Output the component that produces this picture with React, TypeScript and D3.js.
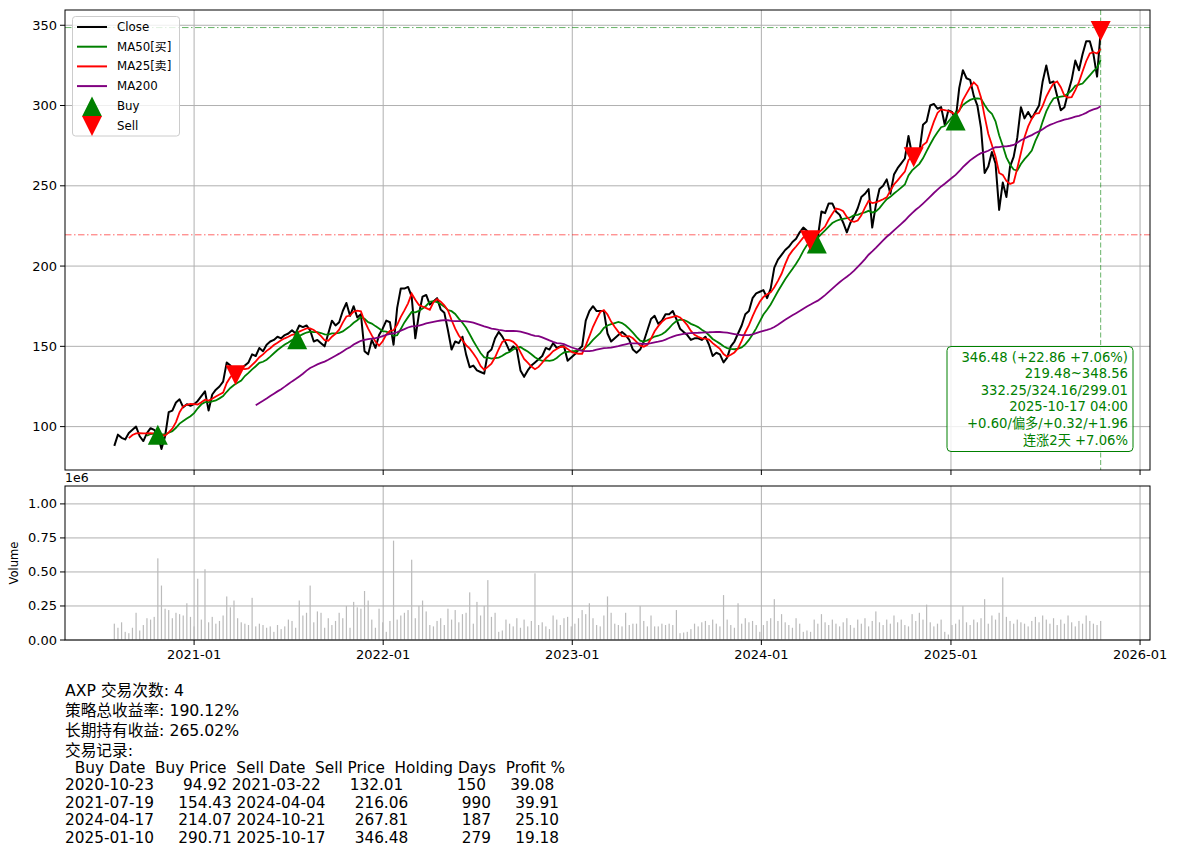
import React from "react";
import * as d3 from "d3";

// ---------- data ----------
const seriesStart = "2020-07-31"; // weekly closes, one per Friday
const closes = [
  88, 95, 93, 92, 96, 98, 100, 94, 91, 96,
  99, 98, 94.92, 86, 94, 109, 110, 115, 117, 112,
  114, 113, 114, 116, 119, 122, 110, 120, 123, 125,
  128, 140, 138, 134, 133, 136, 138, 140, 145, 144,
  149, 147, 151, 153, 154, 156, 155, 157, 158, 160,
  158, 163, 162, 163, 160, 153, 154, 152, 150, 158,
  166, 163, 165, 172, 177, 169, 175, 168, 170, 147,
  145, 154, 149, 157, 161, 166, 165, 151, 174, 186,
  186, 187, 181, 155, 170, 181, 182, 176, 178, 180,
  173, 171, 160, 148, 153, 152, 156, 145, 137, 138,
  135, 134, 133, 146, 148, 155, 159, 156, 152, 147,
  150, 148, 135, 131, 135, 138, 140, 142, 144, 149,
  148, 152, 149, 150, 150, 141, 143, 145, 148, 150,
  166, 172, 175, 172, 172, 172, 158, 153, 155, 157,
  159, 157, 154, 148, 146, 148, 153, 160, 167, 169,
  164, 166, 170, 170, 172, 167, 161, 159, 157, 154,
  155, 155, 154, 156, 151, 144, 146, 145, 140, 143,
  150, 153, 158, 163, 170, 172, 180, 183, 184, 185,
  180, 186, 199, 204, 207, 210, 212, 215, 217, 221,
  224, 222, 217, 221, 218, 234, 233, 239, 239, 234,
  232, 227, 221, 227, 231, 236, 243, 245, 248, 224,
  238, 248, 250, 254, 245, 257, 261, 264, 267, 281,
  269, 268, 271, 288, 290, 300, 301, 298, 299, 288,
  297, 296, 291, 311, 322, 317, 316, 306, 300, 286,
  258, 262, 271, 264, 235, 252, 243, 262, 268, 280,
  299, 292, 296, 292, 296, 300, 315, 325, 314, 315,
  306, 297, 299, 308, 316, 328, 322, 332, 340, 340,
  332, 318, 346.48,
];
// volume in thousands of shares
const volumesK = [
  120, 90, 130, 60, 50, 90, 200, 70, 110, 160,
  150, 170, 600, 400, 230, 220, 160, 200, 190, 180,
  270, 170, 100, 450, 150, 520, 130, 170, 120, 140,
  180, 320, 240, 290, 160, 130, 120, 110, 310, 100,
  120, 110, 90, 100, 60, 110, 80, 100, 150, 140,
  90, 290, 180, 200, 400, 130, 210, 200, 90, 160,
  110, 140, 200, 160, 250, 90, 280, 240, 230, 360,
  290, 150, 90, 230, 130, 60, 140, 730, 150, 180,
  200, 220, 590, 160, 250, 290, 210, 110, 100, 140,
  160, 110, 230, 150, 220, 130, 190, 200, 350, 120,
  280, 180, 250, 440, 170, 200, 60, 70, 150, 120,
  100, 160, 90, 150, 100, 140, 490, 110, 130, 100,
  80, 180, 150, 110, 160, 170, 100, 120, 160, 220,
  190, 270, 160, 110, 100, 180, 320, 200, 120, 110,
  100, 200, 110, 120, 120, 250, 140, 100, 180, 100,
  100, 120, 110, 120, 110, 220, 50, 55, 60, 80,
  120, 100, 130, 140, 110, 150, 120, 100, 330, 150,
  110, 90, 270, 120, 160, 130, 140, 110, 60, 110,
  140, 160, 300, 140, 190, 130, 110, 90, 160, 120,
  60, 70, 60, 150, 120, 190, 130, 110, 150, 120,
  100, 130, 160, 110, 90, 150, 120, 160, 100, 140,
  210, 130, 110, 150, 120, 180, 130, 150, 110, 100,
  190, 140, 200, 150, 260, 130, 100, 120, 150, 60,
  40, 110, 120, 150, 250, 130, 110, 150, 130, 160,
  300, 120, 180, 150, 200, 460, 170, 140, 120, 150,
  130, 120, 100, 140, 170, 130, 180, 150, 120, 160,
  110, 150, 120, 180, 130, 100, 140, 120, 180, 140,
  120, 110, 140,
];
const maWeeks = { ma25: 5, ma50: 10, ma200: 40 }; // 25/50/200 trading days
const buyDates = ["2020-10-23", "2021-07-19", "2024-04-17", "2025-01-10"];
const buyPrices = [94.92, 154.43, 214.07, 290.71];
const sellDates = ["2021-03-22", "2024-04-04", "2024-10-21", "2025-10-17"];
const sellPrices = [132.01, 216.06, 267.81, 346.48];
const holdingDays = [150, 990, 187, 279];
const profitPct = [39.08, 39.91, 25.1, 19.18];
const rangeLow = 219.48;
const rangeHigh = 348.56;
const priceTicks = [100, 150, 200, 250, 300, 350];
const volTicks = [0, 0.25e6, 0.5e6, 0.75e6, 1.0e6];
const infoLines = [
  "346.48 (+22.86 +7.06%)",
  "219.48~348.56",
  "332.25/324.16/299.01",
  "2025-10-17 04:00",
  "+0.60/偏多/+0.32/+1.96",
  "连涨2天 +7.06%",
];
const summaryLines = ["AXP 交易次数: 4", "策略总收益率: 190.12%", "长期持有收益: 265.02%", "交易记录:"];
const tableHeaders = ["Buy Date", "Buy Price", "Sell Date", "Sell Price", "Holding Days", "Profit %"];
const legendItems = [
  { label: "Close", kind: "line", color: "#000000" },
  { label: "MA50[买]", kind: "line", color: "#008000" },
  { label: "MA25[卖]", kind: "line", color: "#ff0000" },
  { label: "MA200", kind: "line", color: "#800080" },
  { label: "Buy", kind: "up", color: "#008000" },
  { label: "Sell", kind: "down", color: "#ff0000" },
];

// ---------- layout ----------
const W = 1177, H = 855;
const L = 65, R = 1150;
const T1 = 10, B1 = 470;
const T2 = 486, B2 = 640;
const FONT = "'DejaVu Sans', 'Noto Sans CJK SC', sans-serif";
const GRID = "#b0b0b0";

export default function App() {
  const parse = d3.utcParse("%Y-%m-%d");
  const t0 = parse(seriesStart) as Date;
  const dates = closes.map((_, i) => d3.utcDay.offset(t0, 7 * i));
  const [d0, d1] = d3.extent(dates) as [Date, Date];
  const pad = (+d1 - +d0) * 0.05;
  const x = d3.scaleUtc().domain([new Date(+d0 - pad), new Date(+d1 + pad)]).range([L, R]);

  const allP = closes.concat(buyPrices, sellPrices);
  const [pMin, pMax] = d3.extent(allP) as [number, number];
  const pp = (pMax - pMin) * 0.05;
  const y = d3.scaleLinear().domain([pMin - pp, pMax + pp]).range([B1, T1]);

  const vols = volumesK.map((v) => v * 1000);
  const yv = d3.scaleLinear().domain([0, (d3.max(vols) as number) * 1.55]).range([B2, T2]);

  const years = d3.utcYear.range(new Date(Date.UTC(2021, 0, 1)), new Date(Date.UTC(2026, 0, 2)));
  const fmtYM = d3.utcFormat("%Y-%m");

  const rolling = (w: number) =>
    closes.map((_, i) => (i < w - 1 ? null : (d3.mean(closes.slice(i - w + 1, i + 1)) as number)));
  const ma25 = rolling(maWeeks.ma25);
  const ma50 = rolling(maWeeks.ma50);
  const ma200 = rolling(maWeeks.ma200);

  const line = d3
    .line<number | null>()
    .defined((d) => d != null)
    .x((_, i) => x(dates[i]))
    .y((d) => y(d as number));

  const tri = (cx: number, cy: number, up: boolean, s = 10) =>
    up
      ? `M${cx},${cy - s}L${cx - s},${cy + s}L${cx + s},${cy + s}Z`
      : `M${cx},${cy + s}L${cx - s},${cy - s}L${cx + s},${cy - s}Z`;

  const widths = [10, 11, 11, 12, 14, 10];
  const headerStr = tableHeaders.map((h, i) => h.padStart(widths[i])).join("");
  const rowStrs = buyDates.map((bd, r) =>
    [bd, buyPrices[r].toFixed(2), sellDates[r], sellPrices[r].toFixed(2), String(holdingDays[r]), profitPct[r].toFixed(2)]
      .map((c, i) => c.padStart(widths[i]))
      .join("")
  );

  const lastX = x(dates[dates.length - 1]);

  return (
    <svg
      width={W}
      height={H}
      viewBox={`0 0 ${W} ${H}`}
      style={{ position: "absolute", left: 0, top: 0, background: "#fff" }}
      fontFamily={FONT}
    >
      <rect x={0} y={0} width={W} height={H} fill="#fff" />
      {/* ===== price panel ===== */}
      <g>
        {years.map((d, i) => (
          <line key={"gx" + i} x1={x(d)} x2={x(d)} y1={T1} y2={B1} stroke={GRID} strokeWidth={1} />
        ))}
        {priceTicks.map((v) => (
          <line key={"gy" + v} x1={L} x2={R} y1={y(v)} y2={y(v)} stroke={GRID} strokeWidth={1} />
        ))}
        <line x1={L} x2={R} y1={y(rangeHigh)} y2={y(rangeHigh)} stroke="#008000" strokeOpacity={0.6} strokeWidth={1} strokeDasharray="6.5,2.5,1.5,2.5" />
        <line x1={L} x2={R} y1={y(rangeLow)} y2={y(rangeLow)} stroke="#ff0000" strokeOpacity={0.6} strokeWidth={1} strokeDasharray="6.5,2.5,1.5,2.5" />
        <line x1={lastX} x2={lastX} y1={T1} y2={B1} stroke="#008000" strokeOpacity={0.6} strokeWidth={1} strokeDasharray="5,2.5" />
        <path d={line(closes) || ""} fill="none" stroke="#000" strokeWidth={2} strokeLinejoin="round" />
        <path d={line(ma50) || ""} fill="none" stroke="#008000" strokeWidth={1.8} />
        <path d={line(ma25) || ""} fill="none" stroke="#ff0000" strokeWidth={1.8} />
        <path d={line(ma200) || ""} fill="none" stroke="#800080" strokeWidth={1.8} />
        {buyDates.map((d, i) => (
          <path key={"b" + i} d={tri(x(parse(d) as Date), y(buyPrices[i]), true)} fill="#008000" />
        ))}
        {sellDates.map((d, i) => (
          <path key={"s" + i} d={tri(x(parse(d) as Date), y(sellPrices[i]), false)} fill="#ff0000" />
        ))}
        {/* axes */}
        <rect x={L} y={T1} width={R - L} height={B1 - T1} fill="none" stroke="#000" strokeWidth={1} />
        {priceTicks.map((v) => (
          <g key={"ty" + v}>
            <line x1={L - 5} x2={L} y1={y(v)} y2={y(v)} stroke="#000" strokeWidth={1} />
            <text x={L - 8} y={y(v)} fontSize={13} textAnchor="end" dominantBaseline="central">
              {v}
            </text>
          </g>
        ))}
        {years.map((d, i) => (
          <line key={"tx" + i} x1={x(d)} x2={x(d)} y1={B1} y2={B1 + 5} stroke="#000" strokeWidth={1} />
        ))}
        {/* legend */}
        <rect x={72.5} y={16.5} width={107} height={119.5} rx={3} fill="#fff" fillOpacity={0.8} stroke="#cccccc" strokeWidth={1} />
        {legendItems.map((it, i) => {
          const cy = 27 + i * 19.7;
          return (
            <g key={"lg" + i}>
              {it.kind === "line" ? (
                <line x1={77} x2={107} y1={cy} y2={cy} stroke={it.color} strokeWidth={2} />
              ) : (
                <path d={tri(92, it.kind === "up" ? 106.5 : 126, it.kind === "up")} fill={it.color} />
              )}
              <text x={117} y={cy} fontSize={11.8} dominantBaseline="central">
                {it.label}
              </text>
            </g>
          );
        })}
        {/* info box */}
        <rect x={947} y={346.5} width={186} height={105} rx={4} fill="#fff" fillOpacity={0.8} stroke="#008000" strokeWidth={1} />
        {infoLines.map((s, i) => (
          <text key={"in" + i} x={1128} y={361.5 + i * 16.6} fontSize={13.2} textAnchor="end" fill="#008000">
            {s}
          </text>
        ))}
      </g>

      {/* ===== volume panel ===== */}
      <g>
        {years.map((d, i) => (
          <line key={"vgx" + i} x1={x(d)} x2={x(d)} y1={T2} y2={B2} stroke={GRID} strokeWidth={1} />
        ))}
        {volTicks.map((v) => (
          <line key={"vgy" + v} x1={L} x2={R} y1={yv(v)} y2={yv(v)} stroke={GRID} strokeWidth={1} />
        ))}
        {vols.map((v, i) => (
          <rect key={"v" + i} x={x(dates[i]) - 0.6} width={1.2} y={yv(v)} height={B2 - yv(v)} fill="#bbbbbb" />
        ))}
        <rect x={L} y={T2} width={R - L} height={B2 - T2} fill="none" stroke="#000" strokeWidth={1} />
        {volTicks.map((v) => (
          <g key={"vty" + v}>
            <line x1={L - 5} x2={L} y1={yv(v)} y2={yv(v)} stroke="#000" strokeWidth={1} />
            <text x={L - 8} y={yv(v)} fontSize={13} textAnchor="end" dominantBaseline="central">
              {(v / 1e6).toFixed(2)}
            </text>
          </g>
        ))}
        {years.map((d, i) => (
          <g key={"vtx" + i}>
            <line x1={x(d)} x2={x(d)} y1={B2} y2={B2 + 5} stroke="#000" strokeWidth={1} />
            <text x={x(d)} y={B2 + 14} fontSize={13} textAnchor="middle" dominantBaseline="central">
              {fmtYM(d)}
            </text>
          </g>
        ))}
        <text x={L} y={482} fontSize={12.5}>1e6</text>
        <text transform={`translate(14,${(T2 + B2) / 2}) rotate(-90)`} fontSize={11.5} textAnchor="middle" dominantBaseline="central">
          Volume
        </text>
      </g>

      {/* ===== summary text ===== */}
      <g fontSize={15.7}>
        {summaryLines.map((s, i) => (
          <text key={"sm" + i} x={65} y={696 + i * 20} style={{ whiteSpace: "pre" }}>
            {s}
          </text>
        ))}
      </g>
      <g fontSize={15.3}>
        <text x={65} y={772.7} xmlSpace="preserve" style={{ whiteSpace: "pre" }}>
          {headerStr}
        </text>
        {rowStrs.map((s, i) => (
          <text key={"row" + i} x={65} y={790 + i * 17.6} xmlSpace="preserve" style={{ whiteSpace: "pre" }}>
            {s}
          </text>
        ))}
      </g>
    </svg>
  );
}
